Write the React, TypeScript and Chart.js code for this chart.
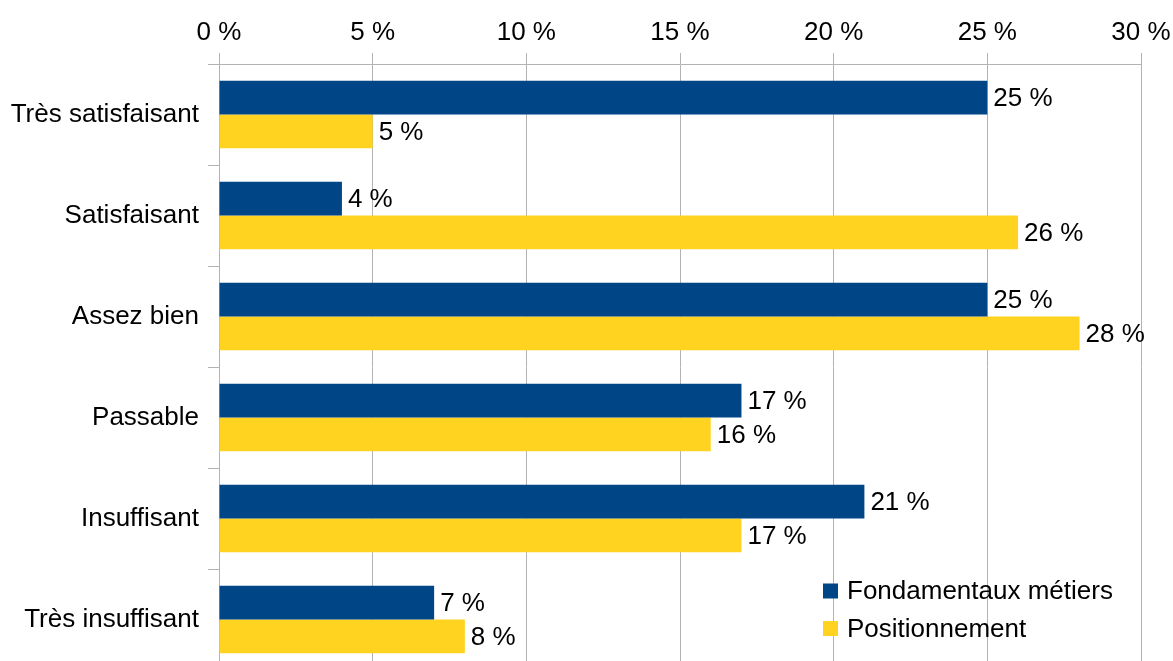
import React, { useEffect, useRef } from "react";
import { Chart, registerables } from "chart.js";

Chart.register(...registerables);

const categories = [
  "Très satisfaisant",
  "Satisfaisant",
  "Assez bien",
  "Passable",
  "Insuffisant",
  "Très insuffisant",
];
const fondamentaux = [25, 4, 25, 17, 21, 7];
const positionnement = [5, 26, 28, 16, 17, 8];
const seriesNames = ["Fondamentaux métiers", "Positionnement"];
const xMin = 0;
const xMax = 30;
const xStep = 5;

const BLUE = "#004586";
const YELLOW = "#ffd320";
const GRID = "#b3b3b3";
const FONT = "'Liberation Sans', Arial, sans-serif";
const FS = 26;

const valueLabels = {
  id: "valueLabels",
  afterDatasetsDraw(chart: any) {
    const ctx = chart.ctx;
    ctx.save();
    ctx.font = `${FS}px ${FONT}`;
    ctx.fillStyle = "#000";
    ctx.textAlign = "left";
    ctx.textBaseline = "middle";
    chart.data.datasets.forEach((ds: any, i: number) => {
      const meta = chart.getDatasetMeta(i);
      meta.data.forEach((bar: any, j: number) => {
        ctx.fillText(`${ds.data[j]} %`, bar.x + 6, bar.y + 1);
      });
    });
    ctx.restore();
  },
};

const insideLegend = {
  id: "insideLegend",
  afterDraw(chart: any) {
    const ctx = chart.ctx;
    const area = chart.chartArea;
    const x0 = area.right - 318;
    const y0 = area.bottom - 79;
    ctx.save();
    ctx.font = `${FS}px ${FONT}`;
    ctx.textAlign = "left";
    ctx.textBaseline = "middle";
    chart.data.datasets.forEach((ds: any, i: number) => {
      const cy = y0 + i * 37.5;
      ctx.fillStyle = ds.backgroundColor;
      ctx.fillRect(x0, cy - 7.5, 15, 15);
      ctx.fillStyle = "#000";
      ctx.fillText(ds.label, x0 + 24, cy + 1);
    });
    ctx.restore();
  },
};

export default function App() {
  const ref = useRef<HTMLCanvasElement>(null);

  useEffect(() => {
    document.body.style.margin = "0";
    const canvas = ref.current;
    if (!canvas) return;
    const chart = new Chart(canvas, {
      type: "bar",
      data: {
        labels: categories,
        datasets: [
          {
            label: seriesNames[0],
            data: fondamentaux,
            backgroundColor: BLUE,
            borderWidth: 0,
            barPercentage: 1,
            categoryPercentage: 0.67,
          },
          {
            label: seriesNames[1],
            data: positionnement,
            backgroundColor: YELLOW,
            borderWidth: 0,
            barPercentage: 1,
            categoryPercentage: 0.67,
          },
        ],
      },
      options: {
        indexAxis: "y",
        responsive: false,
        animation: false,
        layout: { padding: { top: 0, right: 32, bottom: 0, left: 0 } },
        plugins: {
          legend: { display: false },
          tooltip: { enabled: false },
        },
        scales: {
          x: {
            type: "linear",
            position: "top",
            min: xMin,
            max: xMax,
            ticks: {
              stepSize: xStep,
              color: "#000",
              font: { size: FS, family: FONT },
              padding: 5,
              callback: (v: any) => `${v} %`,
            },
            grid: { color: GRID, tickLength: 11, lineWidth: 1 },
            border: { color: GRID },
            afterFit: (scale: any) => {
              scale.height = 64;
              scale.paddingLeft = 0;
              scale.paddingRight = 0;
            },
          },
          y: {
            type: "category",
            ticks: {
              color: "#000",
              font: { size: FS, family: FONT },
              padding: 9,
            },
            grid: {
              color: GRID,
              drawOnChartArea: false,
              tickLength: 11,
              offset: true,
            },
            border: { color: GRID },
            afterFit: (scale: any) => {
              scale.width = 219;
              scale.paddingTop = 0;
              scale.paddingBottom = 0;
            },
          },
        },
      },
      plugins: [valueLabels, insideLegend],
    });
    return () => chart.destroy();
  }, []);

  return (
    <div style={{ width: 1173, height: 661, overflow: "hidden", background: "#fff" }}>
      <canvas ref={ref} width={1173} height={670} style={{ display: "block" }} />
    </div>
  );
}
